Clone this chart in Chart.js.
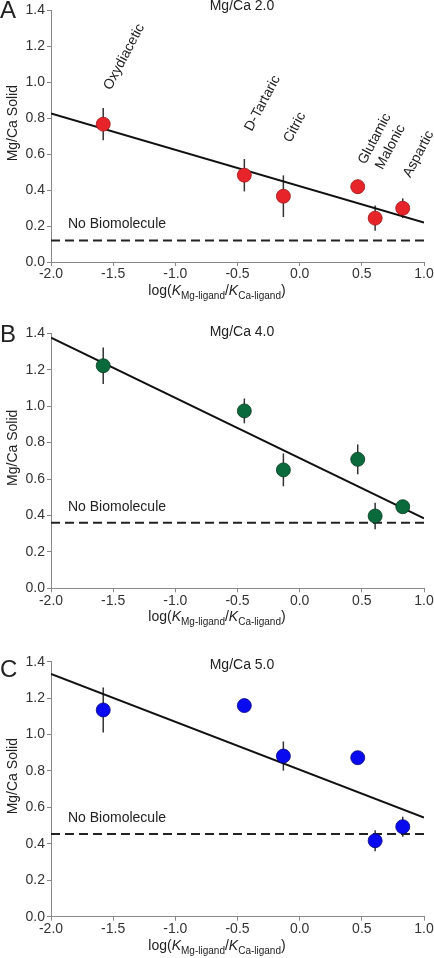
<!DOCTYPE html>
<html>
<head>
<meta charset="utf-8">
<script src="https://cdn.jsdelivr.net/npm/chart.js@4.4.0/dist/chart.umd.min.js"></script>
<style>
  body { margin: 0; background: #fff; width: 434px; height: 958px; position: relative; overflow: hidden; }
  canvas { position: absolute; left: 0; }
</style>
</head>
<body>
<canvas id="panelA" width="434" height="310" style="top:0px;width:434px;height:310px"></canvas>
<canvas id="panelB" width="434" height="335" style="top:305px;width:434px;height:335px"></canvas>
<canvas id="panelC" width="434" height="338" style="top:620px;width:434px;height:338px"></canvas>
<script>
// ligands and their log(K_Mg-ligand / K_Ca-ligand)
const ligands = ['Oxydiacetic', 'D-Tartaric', 'Citric', 'Glutamic', 'Malonic', 'Aspartic'];
const logK = [-1.58, -0.445, -0.131, 0.467, 0.607, 0.829];

// Mg/Ca solid, per solution Mg/Ca ratio
const solidA = [0.767, 0.483, 0.366, 0.419, 0.244, 0.299];
const errA   = [0.09, 0.09, 0.116, 0.04, 0.07, 0.055];
const solidB = [1.222, 0.974, 0.650, 0.708, 0.397, 0.448];
const errB   = [0.10, 0.068, 0.09, 0.082, 0.073, 0.02];
const solidC = [1.135, 1.159, 0.882, 0.873, 0.417, 0.494];
const errC   = [0.124, 0, 0.08, 0, 0.058, 0.055];

// linear fits, values at the ends of the x range
const fitX = [-2.0, 1.0];
const fitA = [0.826, 0.219];
const fitB = [1.376, 0.384];
const fitC = [1.333, 0.544];

// "No Biomolecule" levels
const baseA = 0.12;
const baseB = 0.36;
const baseC = 0.454;

const FONT = '"Liberation Sans", Arial, sans-serif';

function makePanel(id, cfg) {
  const ctx = document.getElementById(id).getContext('2d');

  const errorBars = {
    id: 'errorBars',
    beforeDatasetsDraw(chart) {
      const c = chart.ctx, xs = chart.scales.x, ys = chart.scales.y;
      c.save();
      c.strokeStyle = '#333';
      c.lineWidth = 1.5;
      cfg.values.forEach((v, i) => {
        if (!cfg.errors[i]) return;
        const px = xs.getPixelForValue(logK[i]);
        c.beginPath();
        c.moveTo(px, ys.getPixelForValue(v + cfg.errors[i]));
        c.lineTo(px, ys.getPixelForValue(v - cfg.errors[i]));
        c.stroke();
      });
      c.restore();
    }
  };

  const texts = {
    id: 'texts',
    afterDraw(chart) {
      const c = chart.ctx, xs = chart.scales.x, ys = chart.scales.y;
      const a = chart.chartArea;
      c.save();
      c.fillStyle = '#222';
      c.textBaseline = 'middle';

      // panel letter
      c.font = '24px ' + FONT;
      c.textAlign = 'left';
      c.fillText(cfg.letter, 0, cfg.letterY);

      // title
      c.font = '14px ' + FONT;
      c.textAlign = 'center';
      c.fillText(cfg.title, 242, cfg.titleY);

      // no biomolecule
      c.textAlign = 'left';
      c.fillText('No Biomolecule', 68, ys.getPixelForValue(cfg.base) - 16);

      // y title
      c.save();
      c.translate(13, (a.top + a.bottom) / 2 - 13);
      c.rotate(-Math.PI / 2);
      c.textAlign = 'center';
      c.fillText('Mg/Ca Solid', 0, 0);
      c.restore();

      // x title with subscripts
      const parts = [
        ['log(', '14px ' + FONT, 0],
        ['K', 'italic 14px ' + FONT, 0],
        ['Mg-ligand', '10px ' + FONT, 4],
        ['/', '14px ' + FONT, 0],
        ['K', 'italic 14px ' + FONT, 0],
        ['Ca-ligand', '10px ' + FONT, 4],
        [')', '14px ' + FONT, 0]
      ];
      let w = 0;
      parts.forEach(p => { c.font = p[1]; w += c.measureText(p[0]).width; });
      let x = 217 - w / 2;
      const base = a.bottom + 33;
      c.textBaseline = 'alphabetic';
      c.textAlign = 'left';
      parts.forEach(p => {
        c.font = p[1];
        c.fillText(p[0], x, base + p[2]);
        x += c.measureText(p[0]).width;
      });

      // ligand labels, rotated, above the fit line
      if (cfg.labels) {
        c.font = '14px ' + FONT;
        c.textBaseline = 'middle';
        ligands.forEach((name, i) => {
          const fx = cfg.fit[0] + (cfg.fit[1] - cfg.fit[0]) * (logK[i] - fitX[0]) / (fitX[1] - fitX[0]);
          const px = xs.getPixelForValue(logK[i]) + 4;
          const py = ys.getPixelForValue(fx) - 40;
          c.save();
          c.translate(px, py);
          c.rotate(-62 * Math.PI / 180);
          c.fillText(name, 0, 0);
          c.restore();
        });
      }
      c.restore();
    }
  };

  return new Chart(ctx, {
    type: 'scatter',
    data: {
      datasets: [
        {
          label: cfg.title,
          data: logK.map((k, i) => ({ x: k, y: cfg.values[i] })),
          pointRadius: 7,
          pointBackgroundColor: cfg.color,
          pointBorderColor: cfg.edge,
          pointBorderWidth: 0.8
        },
        {
          label: 'fit',
          data: fitX.map((k, i) => ({ x: k, y: cfg.fit[i] })),
          showLine: true,
          borderColor: '#111',
          borderWidth: 2,
          pointRadius: 0
        },
        {
          label: 'No Biomolecule',
          data: fitX.map(k => ({ x: k, y: cfg.base })),
          showLine: true,
          borderColor: '#222',
          borderWidth: 2,
          borderDash: [9, 5],
          pointRadius: 0
        }
      ]
    },
    options: {
      responsive: false,
      animation: false,
      layout: { padding: { top: cfg.padTop, left: 0, right: 10, bottom: 0 } },
      plugins: { legend: { display: false }, tooltip: { enabled: false } },
      scales: {
        x: {
          type: 'linear',
          min: -2, max: 1,
          afterFit: s => { s.height = cfg.axisH; },
          border: { display: true, color: '#888', width: 1 },
          grid: { drawOnChartArea: false, drawTicks: true, tickLength: 4, color: '#888' },
          ticks: {
            stepSize: 0.5, padding: 0, color: '#333',
            font: { family: FONT, size: 14 },
            maxRotation: 0,
            callback: v => v.toFixed(1)
          }
        },
        y: {
          min: 0, max: 1.4,
          afterFit: s => { s.width = 51; },
          border: { display: true, color: '#888', width: 1 },
          grid: { drawOnChartArea: false, drawTicks: true, tickLength: 4, color: '#888' },
          ticks: {
            stepSize: 0.2, padding: 2, color: '#333',
            font: { family: FONT, size: 14 },
            callback: v => v.toFixed(1)
          }
        }
      }
    },
    plugins: [errorBars, texts]
  });
}

makePanel('panelA', {
  letter: 'A', letterY: 11.5, title: 'Mg/Ca 2.0', titleY: 6,
  values: solidA, errors: errA, fit: fitA, base: baseA,
  color: '#e8242b', edge: '#9a1a1a', padTop: 6, axisH: 48, labels: true
});
makePanel('panelB', {
  letter: 'B', letterY: 30, title: 'Mg/Ca 4.0', titleY: 26.7,
  values: solidB, errors: errB, fit: fitB, base: baseB,
  color: '#0b6a3b', edge: '#063a20', padTop: 28.3, axisH: 51.7, labels: false
});
makePanel('panelC', {
  letter: 'C', letterY: 50.7, title: 'Mg/Ca 5.0', titleY: 45,
  values: solidC, errors: errC, fit: fitC, base: baseC,
  color: '#0a0af0', edge: '#05057a', padTop: 41.7, axisH: 41.3, labels: false
});
</script>
</body>
</html>
